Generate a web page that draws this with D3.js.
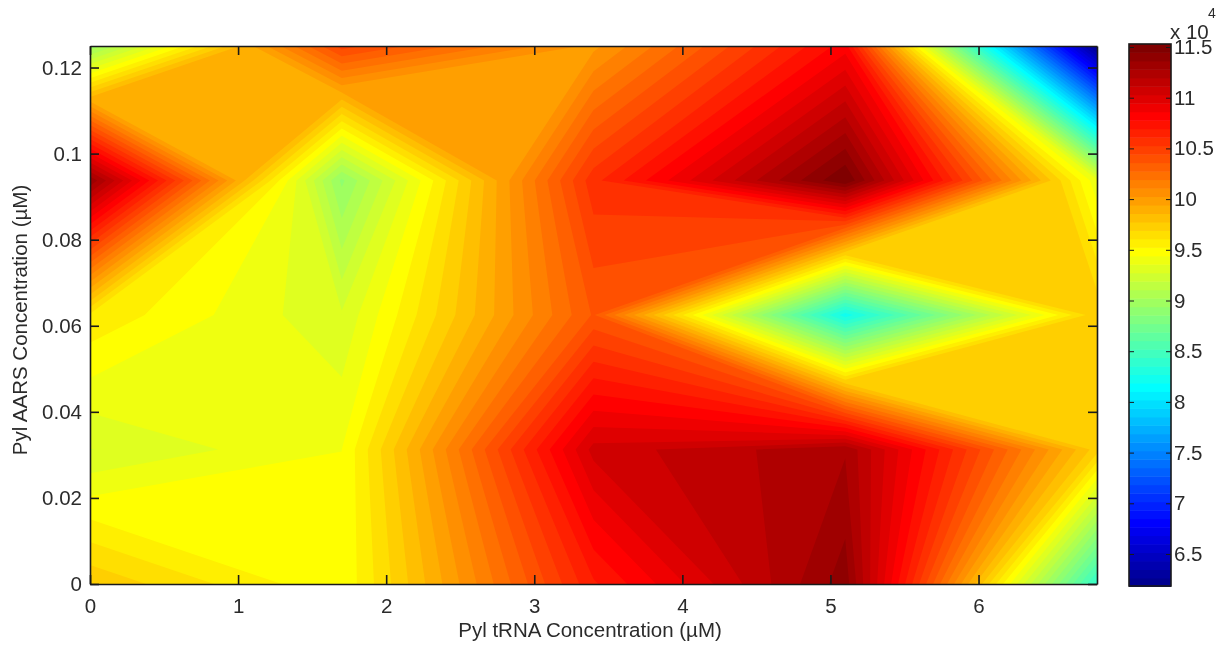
<!DOCTYPE html>
<html>
<head>
<meta charset="utf-8">
<script src="https://cdn.jsdelivr.net/npm/d3@7"></script>
<style>
  html, body { margin: 0; padding: 0; background: #fff; }
  svg { filter: blur(0.55px); }
  text { font-family: "Liberation Sans", Arial, sans-serif; fill: #2b2b2b; }
  .tick text { font-size: 20.5px; }
  .domain, .tick line { stroke: #1a1a1a; }
</style>
</head>
<body>
<div id="chart"></div>
<script>
var tRNA = [0, 1.7, 3.4, 5.1, 6.8];
var aars = [0, 0.03125, 0.0625, 0.09375, 0.125];

// signal, one row per aars value (units of 1e4)
var row0 = [9.76, 9.45, 10.68, 11.41, 8.40];
var row1 = [9.27, 9.44, 11.06, 11.27, 9.73];
var row2 = [9.59, 9.285, 10.37, 8.22, 9.76];
var row3 = [11.35, 8.92, 10.58, 11.53, 9.38];
var row4 = [8.95, 10.48, 10.00, 10.82, 6.18];
var signal = [row0, row1, row2, row3, row4];

var xTicks = [0, 1, 2, 3, 4, 5, 6];
var yTicks = [0, 0.02, 0.04, 0.06, 0.08, 0.1, 0.12];
var barTicks = [6.5, 7, 7.5, 8, 8.5, 9, 9.5, 10, 10.5, 11, 11.5];

var cMin = 6.18, cMax = 11.53;
var barStep = (cMax - cMin) / 64;

var width = 1225, height = 646;
var svg = d3.select("#chart").append("svg")
    .attr("width", width)
    .attr("height", height)
    .style("display", "block");

var x = d3.scaleLinear().domain([0, 6.8]).range([90, 1097]);
var y = d3.scaleLinear().domain([0, 0.125]).range([584, 46]);
var yBar = d3.scaleLinear().domain([6.5, 11.5]).range([554, 47]);

// matlab jet(64)
function jet(i) {
    var n = i + 1, r, g, b;
    b = n <= 8 ? (n + 8) / 16 : n <= 24 ? 1 : n <= 40 ? (40 - n) / 16 : 0;
    g = n <= 8 ? 0 : n <= 24 ? (n - 8) / 16 : n <= 40 ? 1 : n <= 56 ? (56 - n) / 16 : 0;
    r = n <= 24 ? 0 : n <= 40 ? (n - 24) / 16 : n <= 56 ? 1 : (72 - n) / 16;
    return d3.rgb(r * 255, g * 255, b * 255).formatRgb();
}

function cross(a, b, L) {
    var t = (L - a.v) / (b.v - a.v);
    return [a.px + t * (b.px - a.px), a.py + t * (b.py - a.py)];
}

// outline of {value >= L} inside every cell, straight lines like contourf
function levelPath(L) {
    var p = d3.path();
    for (var j = 0; j < aars.length - 1; j++) {
        for (var i = 0; i < tRNA.length - 1; i++) {
            var c = [[i, j], [i + 1, j], [i + 1, j + 1], [i, j + 1]].map(function(k) {
                return {px: x(tRNA[k[0]]), py: y(aars[k[1]]), v: signal[k[1]][k[0]]};
            });
            var high = c.map(function(k) { return k.v >= L; });
            var saddle = high[0] == high[2] && high[1] == high[3] && high[0] != high[1];
            var mean = d3.mean(c, function(k) { return k.v; });

            if (saddle && mean < L) {
                // the two high corners stay apart
                c.forEach(function(k, s) {
                    if (!high[s]) return;
                    var q1 = cross(c[(s + 3) % 4], k, L), q2 = cross(k, c[(s + 1) % 4], L);
                    p.moveTo(q1[0], q1[1]);
                    p.lineTo(k.px, k.py);
                    p.lineTo(q2[0], q2[1]);
                    p.closePath();
                });
                continue;
            }

            var pts = [];
            c.forEach(function(a, s) {
                var b = c[(s + 1) % 4];
                if (a.v >= L) pts.push([a.px, a.py]);
                if ((a.v >= L) != (b.v >= L)) pts.push(cross(a, b, L));
            });
            if (pts.length < 3) continue;
            pts.forEach(function(q, n) {
                if (n == 0) p.moveTo(q[0], q[1]); else p.lineTo(q[0], q[1]);
            });
            p.closePath();
        }
    }
    return p.toString();
}

// one contour band per colormap step
var plot = svg.append("g");
plot.selectAll("path.band")
    .data(d3.range(64))
    .enter().append("path")
    .attr("class", "band")
    .attr("d", function(k) { return levelPath(k == 0 ? cMin - 1 : cMin + k * barStep); })
    .attr("fill", jet);

// main axes, ticks point inward on all four sides
var tickLen = 9;
svg.append("g").attr("transform", "translate(0,584)")
    .call(d3.axisBottom(x).tickValues(xTicks).tickSizeInner(-tickLen).tickSizeOuter(0).tickPadding(tickLen + 5).tickFormat(d3.format("d")));
svg.append("g").attr("transform", "translate(0,46)")
    .call(d3.axisTop(x).tickValues(xTicks).tickSizeInner(-tickLen).tickSizeOuter(0).tickFormat(""));
svg.append("g").attr("transform", "translate(90,0)")
    .call(d3.axisLeft(y).tickValues(yTicks).tickSizeInner(-tickLen).tickSizeOuter(0).tickPadding(8).tickFormat(d3.format("~g")));
svg.append("g").attr("transform", "translate(1097,0)")
    .call(d3.axisRight(y).tickValues(yTicks).tickSizeInner(-tickLen).tickSizeOuter(0).tickFormat(""));

svg.selectAll(".domain").attr("stroke-width", 1.6);
svg.selectAll(".tick line").attr("stroke-width", 1.6);

svg.append("text")
    .attr("x", 590).attr("y", 637)
    .attr("text-anchor", "middle")
    .attr("font-size", "20.5px")
    .text("Pyl tRNA Concentration (µM)");
svg.append("text")
    .attr("transform", "translate(27,320) rotate(-90)")
    .attr("text-anchor", "middle")
    .attr("font-size", "20.5px")
    .text("Pyl AARS Concentration (µM)");

// colorbar
svg.append("g").selectAll("rect")
    .data(d3.range(64))
    .enter().append("rect")
    .attr("x", 1129).attr("width", 42)
    .attr("y", function(d) { return yBar(cMin + (d + 1) * barStep); })
    .attr("height", barStep * (yBar(0) - yBar(1)) + 0.5)
    .attr("fill", jet);

svg.append("rect")
    .attr("x", 1129).attr("y", 44).attr("width", 42).attr("height", 542)
    .attr("fill", "none").attr("stroke", "#1a1a1a").attr("stroke-width", 1.6);

svg.append("g").attr("transform", "translate(1171,0)")
    .call(d3.axisRight(yBar).tickValues(barTicks).tickSizeInner(-5).tickSizeOuter(0).tickPadding(3).tickFormat(d3.format("~g")))
    .call(function(g) { g.select(".domain").remove(); });
svg.append("g").attr("transform", "translate(1129,0)")
    .call(d3.axisLeft(yBar).tickValues(barTicks).tickSizeInner(-5).tickSizeOuter(0).tickFormat(""))
    .call(function(g) { g.select(".domain").remove(); });

svg.append("text").attr("x", 1170).attr("y", 39).attr("font-size", "20.5px").text("x 10");
svg.append("text").attr("x", 1208).attr("y", 18).attr("font-size", "14px").text("4");
</script>
</body>
</html>
